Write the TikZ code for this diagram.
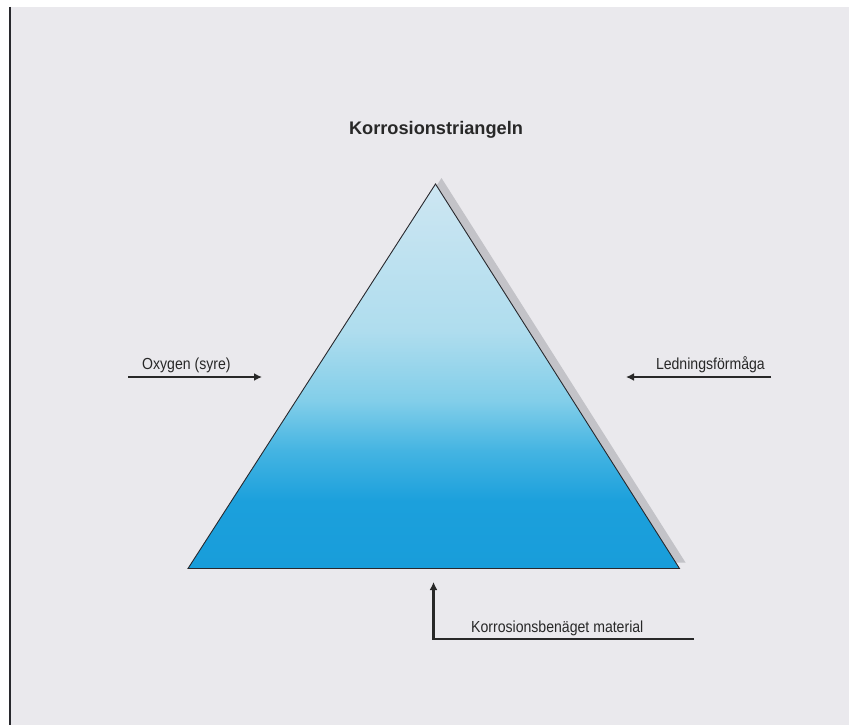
\documentclass[tikz,border=0pt]{standalone}
\usepackage{fontspec}
\setmainfont{Liberation Sans}
\newfontfamily\labelfont[FakeStretch=0.88]{Liberation Sans}
\usetikzlibrary{arrows.meta}

\definecolor{paper}{RGB}{234,233,237}
\definecolor{edgeline}{RGB}{40,40,45}
\definecolor{inkgray}{RGB}{40,40,40}
\definecolor{shadowgray}{RGB}{195,195,200}
\definecolor{blueTop}{RGB}{205,230,242}
\definecolor{blueUpper}{RGB}{175,221,238}
\definecolor{blueMid}{RGB}{130,206,233}
\definecolor{blueLower}{RGB}{68,180,226}
\definecolor{blueDeep}{RGB}{28,160,220}
\definecolor{blueBase}{RGB}{24,157,218}

% bottom to top: deep blue at the base, pale blue at the apex
\pgfdeclareverticalshading{corrfade}{100bp}{color(0bp)=(blueBase); color(25bp)=(blueBase); color(33.8bp)=(blueDeep); color(40.3bp)=(blueLower); color(46.8bp)=(blueMid); color(55.9bp)=(blueUpper); color(75bp)=(blueTop); color(100bp)=(blueTop)}

\begin{document}
\begin{tikzpicture}[x=1pt, y=-1pt,
    label text/.style={font=\labelfont\fontsize{16}{18}\selectfont, text=inkgray, inner sep=0pt},
    feed arrow/.style={-{Latex[length=8pt,width=8pt]}, line width=2.4pt, draw=inkgray}]
    \useasboundingbox (0,0) rectangle (849,725);
    \fill[white] (0,0) rectangle (849,725);
    \fill[paper] (10,7) rectangle (849,725);
    \draw[edgeline, line width=2pt] (10,7) -- (10,725);

    % the triangle
    \coordinate (apex) at (435.5,184);
    \coordinate (baseL) at (188,568.5);
    \coordinate (baseR) at (679.5,568.5);
    \fill[shadowgray] ([shift={(6,-6)}]apex) -- ([shift={(6,-6)}]baseL) -- ([shift={(6,-6)}]baseR) -- cycle;
    \shade[shading=corrfade] (apex) -- (baseL) -- (baseR) -- cycle;
    \draw[edgeline, line width=0.9pt, line join=miter] (apex) -- (baseL) -- (baseR) -- cycle;

    \node[font=\bfseries\fontsize{18.2}{22}\selectfont, text=inkgray, anchor=base, inner sep=0pt] (title) at (436,134) {Korrosionstriangeln};

    % left side
    \coordinate (oxtail) at (128,377);
    \coordinate (oxhead) at (262,377);
    \draw[feed arrow] (oxtail) -- (oxhead);
    \node[label text, anchor=base west] (oxlabel) at (142,369) {Oxygen (syre)};

    % right side
    \coordinate (condtail) at (771,377);
    \coordinate (condhead) at (626,377);
    \draw[feed arrow] (condtail) -- (condhead);
    \node[label text, anchor=base east] (condlabel) at (765,369) {Ledningsförmåga};

    % below
    \coordinate (matend) at (694,639);
    \coordinate (matcorner) at (433.5,639);
    \coordinate (mathead) at (433.5,582);
    \draw[feed arrow] (matend) -- (matcorner) -- (mathead);
    \node[label text, anchor=base west] (matlabel) at (471,632) {Korrosionsbenäget material};
\end{tikzpicture}
\end{document}
